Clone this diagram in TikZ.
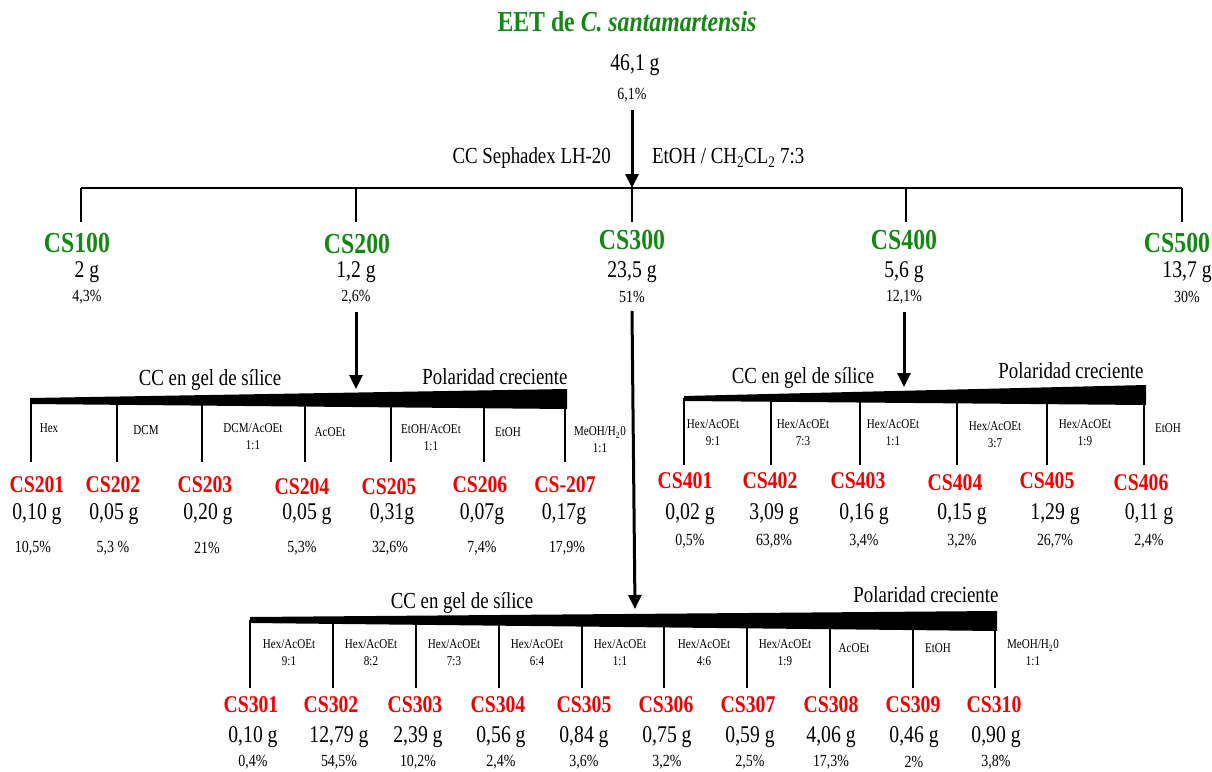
\documentclass[tikz,border=0pt]{standalone}
\usepackage{fontspec}
\setmainfont{Liberation Serif}[FakeStretch=0.82]
\usetikzlibrary{arrows.meta}

\definecolor{verde}{RGB}{20,135,20}
\definecolor{rojo}{RGB}{245,0,0}

\tikzset{
  grupo/.style={font=\fontsize{29}{30}\selectfont\bfseries, text=verde, inner sep=0pt},
  fraccion/.style={font=\fontsize{24}{26}\selectfont\bfseries, text=rojo, inner sep=0pt},
  masa/.style={font=\fontsize{24}{26}\selectfont, inner sep=0pt},
  porc/.style={font=\fontsize{17}{18}\selectfont, inner sep=0pt},
  eluyente/.style={font=\fontsize{13.5}{17}\selectfont, align=center, inner sep=0pt},
  metodo/.style={font=\fontsize{23}{25}\selectfont, inner sep=0pt},
  flecha/.style={line width=3pt, -{Triangle[width=13pt,length=14pt]}},
  rama/.style={line width=2pt},
}

\begin{document}
\begin{tikzpicture}[x=1pt,y=-1pt]
    \useasboundingbox (0,0) rectangle (1212,771);

    % extracto
    \node[grupo] (eet) at (627,22) {EET de \textit{C. santamartensis}};
    \node[masa] (m0) at (635,65) {46,1 g};
    \node[porc] (p0) at (632,95) {6,1\%};
    \node[metodo,anchor=east] (sepha) at (611,158) {CC Sephadex LH-20};
    \node[metodo,anchor=west] (solv) at (652,158) {EtOH / CH\textsubscript{2}CL\textsubscript{2} 7:3};

    \coordinate (b0) at (632,188);
    \coordinate (bizq) at (81,188);
    \coordinate (bder) at (1182,188);
    \draw[line width=2.5pt] (bizq) -- (bder);
    \draw[flecha] ([yshift=-8pt]p0.south) -- (b0);
    \foreach \x in {81,356,632,906,1182}
        \draw[line width=1.5pt] (\x,188) -- (\x,222);

    % fracciones Sephadex
    \foreach \n/\xl/\yl/\xm/\masa/\pc in {100/77/243/87/{2 g}/{4,3\%}, 200/357/244/356/{1,2 g}/{2,6\%}, 300/632/240/632/{23,5 g}/{51\%}, 400/904/240/904/{5,6 g}/{12,1\%}, 500/1177/243/1187/{13,7 g}/{30\%}}{
        \node[grupo] (cs\n) at (\xl,\yl) {CS\n};
        \node[masa] (m\n) at (\xm,272) {\masa};
        \node[porc] (p\n) at (\xm,297) {\pc};
    }

    % CS200 en gel de silice
    \coordinate (w2) at (356,389);
    \draw[flecha] ([yshift=-8pt]p200.south) -- (w2);
    \node[metodo] (cc2) at (210,380) {CC en gel de sílice};
    \node[metodo] (pol2) at (495,377) {Polaridad creciente};
    \fill (30,398) -- (567,389) -- (567,409) -- (30,404) -- cycle;
    \foreach \x in {31,117,202,305,391,484,565}
        \draw[rama] (\x,400) -- (\x,462);
    \node[eluyente] (e201) at (49,428) {Hex};
    \node[eluyente] (e202) at (146,430) {DCM};
    \node[eluyente] (e203) at (253,437) {DCM/AcOEt\\1:1};
    \node[eluyente] (e204) at (330,432) {AcOEt};
    \node[eluyente] (e205) at (431,438) {EtOH/AcOEt\\1:1};
    \node[eluyente] (e206) at (508,432) {EtOH};
    \node[eluyente] (e207) at (600,440) {MeOH/H\textsubscript{2}0\\1:1};
    \foreach \n/\xm/\masa/\xp/\pc in {201/37/{0,10 g}/33/{10,5\%}, 202/114/{0,05 g}/113/{5,3 \%}, 203/208/{0,20 g}/207/{21\%}, 204/307/{0,05 g}/302/{5,3\%}, 205/392/{0,31g}/390/{32,6\%}, 206/482/{0,07g}/482/{7,4\%}, 207/564/{0,17g}/567/{17,9\%}}{
        \node[masa] (m\n) at (\xm,514) {\masa};
        \node[porc] (p\n) at (\xp,548) {\pc};
    }
    \node[fraccion] (cs201) at (37,485) {CS201};
    \node[fraccion] (cs202) at (113,485) {CS202};
    \node[fraccion] (cs203) at (205,485) {CS203};
    \node[fraccion] (cs204) at (302,487) {CS204};
    \node[fraccion] (cs205) at (389,487) {CS205};
    \node[fraccion] (cs206) at (480,485) {CS206};
    \node[fraccion] (cs207) at (565,485) {CS-207};

    % CS400 en gel de silice
    \coordinate (w4) at (904,387);
    \draw[flecha] ([yshift=-8pt]p400.south) -- (w4);
    \node[metodo] (cc4) at (803,378) {CC en gel de sílice};
    \node[metodo] (pol4) at (1071,371) {Polaridad creciente};
    \fill (684,396) -- (1146,385) -- (1146,405) -- (684,401) -- cycle;
    \foreach \x in {684,771,860,957,1047,1144}
        \draw[rama] (\x,398) -- (\x,465);
    \foreach \n/\x/\y/\rel in {401/713/433/9:1, 402/803/433/7:3, 403/893/433/1:1, 404/995/435/3:7, 405/1085/433/1:9}
        \node[eluyente] (e\n) at (\x,\y) {Hex/AcOEt\\\rel};
    \node[eluyente] (e406) at (1168,428) {EtOH};
    \foreach \n/\xl/\yl/\xm/\masa/\pc in {401/685/481/690/{0,02 g}/{0,5\%}, 402/770/481/774/{3,09 g}/{63,8\%}, 403/858/481/864/{0,16 g}/{3,4\%}, 404/955/483/962/{0,15 g}/{3,2\%}, 405/1047/481/1055/{1,29 g}/{26,7\%}, 406/1141/483/1149/{0,11 g}/{2,4\%}}{
        \node[fraccion] (cs\n) at (\xl,\yl) {CS\n};
        \node[masa] (m\n) at (\xm,514) {\masa};
        \node[porc] (p\n) at (\xm,541) {\pc};
    }

    % CS300 en gel de silice
    \coordinate (w3) at (635,609);
    \draw[flecha] ([yshift=-8pt]p300.south) -- (w3);
    \node[metodo] (cc3) at (462,603) {CC en gel de sílice};
    \node[metodo] (pol3) at (926,595) {Polaridad creciente};
    \fill (250,617) -- (997,611) -- (997,631) -- (250,623) -- cycle;
    \foreach \x in {250,333,416,499,582,664,747,830,913,995}
        \draw[rama] (\x,620) -- (\x,688);
    \foreach \n/\x/\rel in {301/289/9:1, 302/371/8:2, 303/454/7:3, 304/537/6:4, 305/620/1:1, 306/704/4:6, 307/785/1:9}
        \node[eluyente] (e\n) at (\x,653) {Hex/AcOEt\\\rel};
    \node[eluyente] (e308) at (854,648) {AcOEt};
    \node[eluyente] (e309) at (938,648) {EtOH};
    \node[eluyente] (e310) at (1033,653) {MeOH/H\textsubscript{2}0\\1:1};
    \foreach \n/\xl/\xm/\masa/\pc in {301/251/253/{0,10 g}/{0,4\%}, 302/331/339/{12,79 g}/{54,5\%}, 303/415/418/{2,39 g}/{10,2\%}, 304/498/501/{0,56 g}/{2,4\%}, 305/584/584/{0,84 g}/{3,6\%}, 306/666/667/{0,75 g}/{3,2\%}, 307/748/750/{0,59 g}/{2,5\%}, 308/831/831/{4,06 g}/{17,3\%}, 309/913/914/{0,46 g}/{2\%}, 310/994/996/{0,90 g}/{3,8\%}}{
        \node[fraccion] (cs\n) at (\xl,705) {CS\n};
        \node[masa] (m\n) at (\xm,737) {\masa};
        \node[porc] (p\n) at (\xm,762) {\pc};
    }
\end{tikzpicture}
\end{document}
